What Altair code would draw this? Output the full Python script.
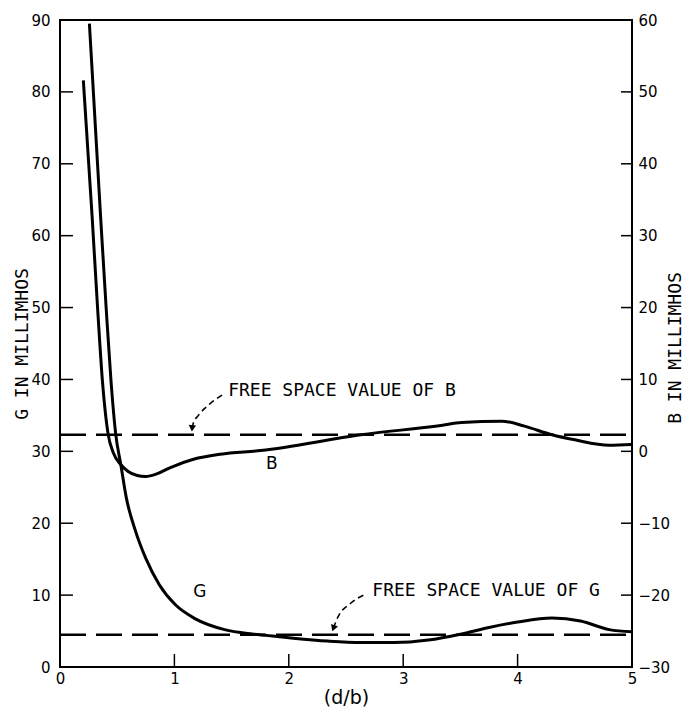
import altair as alt
import pandas as pd

# ---- data ----
g_x = [0.257, 0.355, 0.404, 0.446, 0.487, 0.531, 0.579, 0.658, 0.75, 0.868, 1.009, 1.184,
       1.439, 1.68, 1.8, 2.04, 2.34, 2.63, 2.92, 3.22, 3.51, 3.75, 4.0, 4.3, 4.55, 4.8, 5.0]
g_val = [89.5, 62.6, 49.8, 39.75, 32.4, 28.2, 23.6, 19.0, 15.1, 11.45, 8.65, 6.7,
         5.2, 4.6, 4.4, 4.0, 3.6, 3.4, 3.4, 3.75, 4.6, 5.5, 6.25, 6.8, 6.4, 5.2, 4.9]

b_x = [0.204, 0.281, 0.329, 0.371, 0.421, 0.465, 0.531, 0.596, 0.675, 0.746, 0.851, 0.965,
       1.167, 1.40, 1.754, 2.63, 3.33, 3.51, 3.86, 4.06, 4.30, 4.50, 4.80, 5.0]
b_val = [51.6, 32.6, 19.8, 9.75, 2.36, -0.15, -1.83, -2.8, -3.36, -3.5, -3.1, -2.25,
         -1.1, -0.4, 0.1, 2.3, 3.6, 4.0, 4.2, 3.5, 2.3, 1.6, 0.85, 0.95]

g_free = 4.5
b_free = 2.3

x_ticks = [0, 1, 2, 3, 4, 5]
g_ticks = [0, 10, 20, 30, 40, 50, 60, 70, 80, 90]
b_ticks = [-30, -20, -10, 0, 10, 20, 30, 40, 50, 60]
g_inner_ticks = [10, 20, 30, 40, 50, 60, 70, 80]
x_inner_ticks = [1, 2, 3, 4]
b_inner_ticks = [-20, -10, 0, 10, 20, 30, 40, 50]

# annotations (data units)
b_arrow_x = [1.155, 1.165, 1.21, 1.31, 1.425]
b_arrow_v = [3.2, 3.9, 5.0, 6.6, 7.9]
g_arrow_x = [2.39, 2.43, 2.535, 2.68]
g_arrow_v = [5.4, 6.96, 8.8, 10.2]

texts_g = ["FREE SPACE VALUE OF G"]
texts_g_x = [2.73]
texts_g_v = [10.6]
texts_b = ["FREE SPACE VALUE OF B"]
texts_b_x = [1.47]
texts_b_v = [8.4]

curve_labels_g = ["G"]
curve_labels_g_x = [1.165]
curve_labels_g_v = [10.4]
curve_labels_b = ["B"]
curve_labels_b_x = [1.80]
curve_labels_b_v = [-1.8]

W, H = 572, 647
FONT = "DejaVu Sans"
MONO = "DejaVu Sans Mono"

xs = alt.Scale(domain=[0, 5], nice=False, zero=False)
gs = alt.Scale(domain=[0, 90], nice=False, zero=False)
bs = alt.Scale(domain=[-30, 60], nice=False, zero=False)

x_axis = alt.Axis(values=x_ticks, title="(d/b)", labelPadding=4, titlePadding=2,
                  titleFontSize=19, titleFontWeight="normal", labelFlush=False,
                  labelOverlap=False, format="d")
g_axis = alt.Axis(values=g_ticks, title="G IN MILLIMHOS", labelPadding=10,
                  titleAngle=270, titleX=-38, titleY=H / 2, titleBaseline="middle",
                  titleFont=MONO, titleFontSize=18, titleFontWeight="normal",
                  labelFlush=False, labelOverlap=False, format="d")
b_axis = alt.Axis(values=b_ticks, title="B IN MILLIMHOS", orient="right",
                  labelPadding=6, titleAngle=270, titleX=43, titleY=H / 2 + 4,
                  titleBaseline="middle", titleFont=MONO, titleFontSize=18,
                  titleFontWeight="normal", labelFlush=False, labelOverlap=False, format="d")

X = alt.X("x:Q", scale=xs, axis=x_axis)
YG = alt.Y("g:Q", scale=gs, axis=g_axis)
YB = alt.Y("b:Q", scale=bs, axis=b_axis)

df_g = pd.DataFrame({"x": g_x, "g": g_val})
df_b = pd.DataFrame({"x": b_x, "b": b_val})

g_line = alt.Chart(df_g).mark_line(color="black", strokeWidth=3, interpolate="monotone").encode(x=X, y=YG)
g_free_df = pd.DataFrame({"x": [0, 5], "g": [g_free, g_free]})
g_free_line = alt.Chart(g_free_df).mark_line(color="black", strokeWidth=2.5, strokeDash=[26, 10]).encode(x=X, y=YG)
g_arrow = alt.Chart(pd.DataFrame({"x": g_arrow_x, "g": g_arrow_v})).mark_line(
    color="black", strokeWidth=1.6, strokeDash=[6, 4], interpolate="monotone").encode(x=X, y=YG)
g_head = alt.Chart(pd.DataFrame({"x": [g_arrow_x[0]], "g": [g_arrow_v[0]]})).mark_point(
    shape="triangle-down", filled=True, color="black", size=55, angle=20, opacity=1).encode(x=X, y=YG)
g_text = alt.Chart(pd.DataFrame({"x": texts_g_x, "g": texts_g_v, "t": texts_g})).mark_text(
    font=MONO, fontSize=18, align="left", baseline="middle", color="black").encode(x=X, y=YG, text="t:N")
g_lab = alt.Chart(pd.DataFrame({"x": curve_labels_g_x, "g": curve_labels_g_v, "t": curve_labels_g})).mark_text(
    font=FONT, fontSize=17, align="left", baseline="middle", color="black").encode(x=X, y=YG, text="t:N")
g_tk = alt.Chart(pd.DataFrame({"g": g_inner_ticks})).mark_rule(color="black", strokeWidth=1.5).encode(
    y=YG, x=alt.value(0), x2=alt.value(13))
x_tk = alt.Chart(pd.DataFrame({"x": x_inner_ticks})).mark_rule(color="black", strokeWidth=1.5).encode(
    x=X, y=alt.value(H), y2=alt.value(H - 13))

left = alt.layer(g_line, g_free_line, g_arrow, g_head, g_text, g_lab, g_tk, x_tk)

b_line = alt.Chart(df_b).mark_line(color="black", strokeWidth=3, interpolate="monotone").encode(x=X, y=YB)
b_free_df = pd.DataFrame({"x": [0, 5], "b": [b_free, b_free]})
b_free_line = alt.Chart(b_free_df).mark_line(color="black", strokeWidth=2.5, strokeDash=[26, 10]).encode(x=X, y=YB)
b_arrow = alt.Chart(pd.DataFrame({"x": b_arrow_x, "b": b_arrow_v})).mark_line(
    color="black", strokeWidth=1.6, strokeDash=[6, 4], interpolate="monotone").encode(x=X, y=YB)
b_head = alt.Chart(pd.DataFrame({"x": [b_arrow_x[0]], "b": [b_arrow_v[0]]})).mark_point(
    shape="triangle-down", filled=True, color="black", size=55, angle=5, opacity=1).encode(x=X, y=YB)
b_text = alt.Chart(pd.DataFrame({"x": texts_b_x, "b": texts_b_v, "t": texts_b})).mark_text(
    font=MONO, fontSize=18, align="left", baseline="middle", color="black").encode(x=X, y=YB, text="t:N")
b_lab = alt.Chart(pd.DataFrame({"x": curve_labels_b_x, "b": curve_labels_b_v, "t": curve_labels_b})).mark_text(
    font=FONT, fontSize=17, align="left", baseline="middle", color="black").encode(x=X, y=YB, text="t:N")
b_tk = alt.Chart(pd.DataFrame({"b": b_inner_ticks})).mark_rule(color="black", strokeWidth=1.5).encode(
    y=YB, x=alt.value(W - 11), x2=alt.value(W))

right = alt.layer(b_line, b_free_line, b_arrow, b_head, b_text, b_lab, b_tk)

chart = alt.layer(left, right).resolve_scale(y="independent").properties(
    width=W, height=H,
    autosize=alt.AutoSizeParams(type="none"),
    padding={"left": 52, "top": 12, "right": 51, "bottom": 41},
    background="white",
).configure_view(stroke="black", strokeWidth=2).configure_axis(
    domain=False, ticks=False, grid=False, labelFont=FONT, labelFontSize=15,
    labelColor="black", titleFont=FONT, titleColor="black",
)

chart.save("out.html", embed_options={"renderer": "svg", "actions": False})
